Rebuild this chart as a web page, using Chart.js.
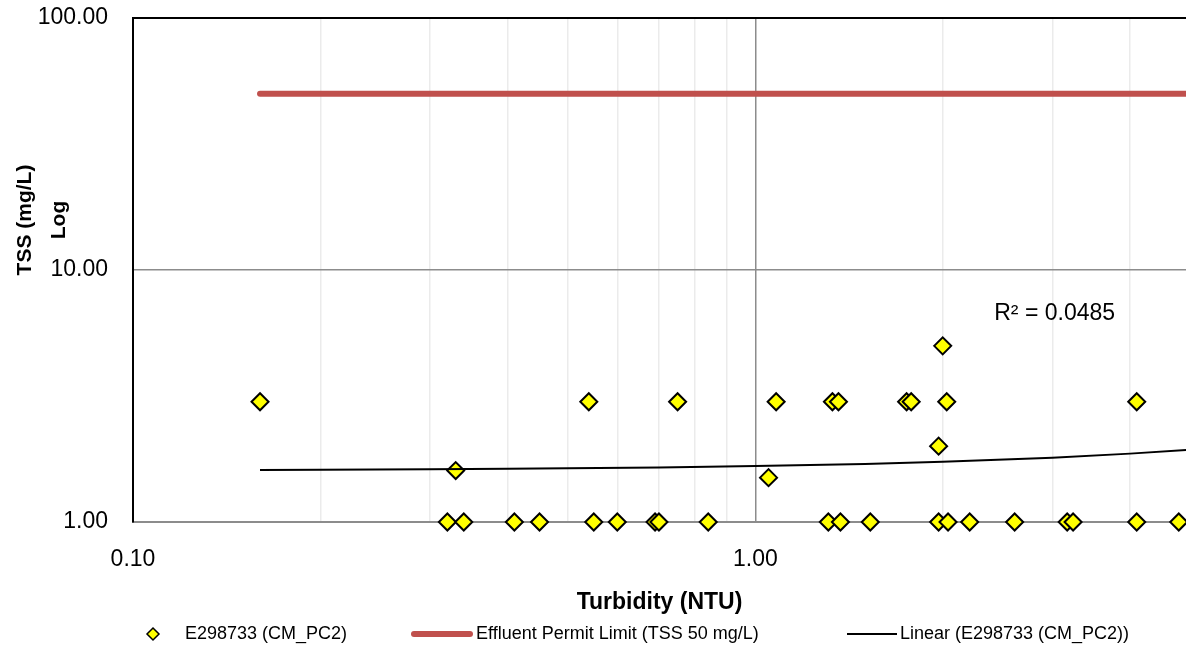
<!DOCTYPE html>
<html>
<head>
<meta charset="utf-8">
<script src="https://cdn.jsdelivr.net/npm/chart.js"></script>
<style>
  body { margin: 0; background: #fff; }
  #wrap { width: 1186px; height: 651px; }
</style>
</head>
<body>
<div id="wrap"><canvas id="chart" width="1186" height="651"></canvas></div>
<script>
// Scatter data: turbidity (NTU) vs TSS (mg/L)
const turbidity = [0.16, 0.32, 0.33, 0.34, 0.41, 0.45, 0.54, 0.55, 0.60, 0.69, 0.70, 0.75,
  0.84, 1.05, 1.08, 1.31, 1.33, 1.36, 1.37, 1.53, 1.75, 1.78, 1.97, 1.97, 2.00, 2.03,
  2.04, 2.21, 2.61, 3.17, 3.24, 4.10, 4.10, 4.79];
const tss = [3, 1, 1.6, 1, 1, 1, 3, 1, 1, 1, 1, 3,
  1, 1.5, 3, 1, 3, 3, 1, 1, 3, 3, 1, 2, 5, 3,
  1, 1, 1, 1, 1, 3, 1, 1];

// Effluent permit limit line (TSS 50 mg/L), starts at first sample
const permitX = [0.16, 10];
const permitY = [50, 50];

// Excel linear trendline (y = a + b*x), coefficients
const trendIntercept = 1.599;
const trendSlope = 0.0672;
const trendR2 = 'R\u00B2 = 0.0485';
const trendX = [0.16, 0.2, 0.3, 0.4, 0.5, 0.7, 1, 1.5, 2, 3, 4, 5, 6];

// axis ticks
const xTicks = [0.1, 0.2, 0.3, 0.4, 0.5, 0.6, 0.7, 0.8, 0.9, 1, 2, 3, 4];
const xLabeled = [0.1, 1];
const yTicks = [1, 10, 100];

const seriesName = 'E298733 (CM_PC2)';
const permitName = 'Effluent Permit Limit (TSS 50 mg/L)';
const trendName = 'Linear (E298733 (CM_PC2))';

const points = turbidity.map((x, i) => ({ x: x, y: tss[i] }));
const permitPts = permitX.map((x, i) => ({ x: x, y: permitY[i] }));
const trendPts = trendX.map(x => ({ x: x, y: trendIntercept + trendSlope * x }));

const FONT = "'Liberation Sans', Arial, sans-serif";

// y title, R² label and legend are drawn by hand to sit where Excel put them
const extras = {
  id: 'extras',
  afterDraw(chart) {
    const ctx = chart.ctx;
    const xs = chart.scales.x, ys = chart.scales.y;
    ctx.save();
    ctx.fillStyle = '#000';

    // R² label
    ctx.font = '23px ' + FONT;
    ctx.textAlign = 'left';
    ctx.textBaseline = 'middle';
    ctx.fillText(trendR2, xs.getPixelForValue(2.42), ys.getPixelForValue(6.7));

    // y axis title, two lines rotated
    ctx.font = 'bold 21px ' + FONT;
    ctx.textAlign = 'center';
    ctx.save();
    ctx.translate(25, 220);
    ctx.rotate(-Math.PI / 2);
    ctx.fillText('TSS (mg/L)', 0, 0);
    ctx.restore();
    ctx.save();
    ctx.translate(59, 220);
    ctx.rotate(-Math.PI / 2);
    ctx.fillText('Log', 0, 0);
    ctx.restore();

    // legend
    const ly = 634;
    ctx.font = '18px ' + FONT;
    ctx.textAlign = 'left';
    ctx.fillText(seriesName, 185, ly);
    ctx.fillText(permitName, 476, ly);
    ctx.fillText(trendName, 900, ly);

    ctx.beginPath();
    ctx.moveTo(153, ly - 6);
    ctx.lineTo(159, ly);
    ctx.lineTo(153, ly + 6);
    ctx.lineTo(147, ly);
    ctx.closePath();
    ctx.fillStyle = '#FFFF00';
    ctx.fill();
    ctx.lineWidth = 1.5;
    ctx.strokeStyle = '#000';
    ctx.stroke();

    ctx.lineCap = 'round';
    ctx.strokeStyle = '#C0504D';
    ctx.lineWidth = 6;
    ctx.beginPath();
    ctx.moveTo(414, ly);
    ctx.lineTo(470, ly);
    ctx.stroke();

    ctx.lineCap = 'butt';
    ctx.strokeStyle = '#000';
    ctx.lineWidth = 2;
    ctx.beginPath();
    ctx.moveTo(847, ly);
    ctx.lineTo(897, ly);
    ctx.stroke();
    ctx.restore();
  }
};

new Chart(document.getElementById('chart'), {
  type: 'scatter',
  data: {
    datasets: [
      {
        label: trendName,
        data: trendPts,
        showLine: true,
        borderColor: '#000',
        borderWidth: 2,
        pointRadius: 0,
        tension: 0,
        order: 1
      },
      {
        label: permitName,
        data: permitPts,
        showLine: true,
        borderColor: '#C0504D',
        borderWidth: 6,
        borderCapStyle: 'round',
        pointRadius: 0,
        order: 2
      },
      {
        label: seriesName,
        data: points,
        pointStyle: 'rectRot',
        pointRadius: 8.5,
        pointBackgroundColor: '#FFFF00',
        pointBorderColor: '#000',
        pointBorderWidth: 2,
        clip: false,
        order: 3
      }
    ]
  },
  options: {
    responsive: false,
    animation: false,
    devicePixelRatio: 1,
    layout: { autoPadding: false, padding: { top: 18, right: 0, bottom: 29, left: 0 } },
    plugins: {
      legend: { display: false },
      tooltip: { enabled: false }
    },
    scales: {
      x: {
        type: 'logarithmic',
        min: 0.1,
        max: 4.92,
        afterBuildTicks: s => { s.ticks = xTicks.map(v => ({ value: v })); },
        afterFit: s => { s.height = 100; s.paddingLeft = 0; s.paddingRight = 0; },
        ticks: {
          autoSkip: false,
          maxRotation: 0,
          padding: 24,
          color: '#000',
          font: { family: FONT, size: 23 },
          callback: v => xLabeled.includes(v) ? v.toFixed(2) : ''
        },
        grid: {
          drawTicks: false,
          color: c => c.tick.value === 1 ? '#8c8c8c' : (c.tick.value === 0.1 ? 'rgba(0,0,0,0)' : '#ebebeb'),
          lineWidth: 1.5
        },
        border: { color: '#8c8c8c', width: 2 },
        title: {
          display: true,
          text: 'Turbidity (NTU)',
          color: '#000',
          font: { family: FONT, size: 23, weight: 'bold' },
          padding: { top: 0, bottom: 6 }
        }
      },
      y: {
        type: 'logarithmic',
        min: 1,
        max: 100,
        afterBuildTicks: s => { s.ticks = yTicks.map(v => ({ value: v })); },
        afterFit: s => { s.width = 133; s.paddingTop = 0; s.paddingBottom = 0; },
        ticks: {
          padding: 25,
          color: '#000',
          font: { family: FONT, size: 23 },
          callback: v => Number(v).toFixed(2)
        },
        grid: {
          drawTicks: false,
          color: c => c.tick.value === 100 ? '#000' : (c.tick.value === 10 ? '#8c8c8c' : 'rgba(0,0,0,0)'),
          lineWidth: c => c.tick.value === 100 ? 2 : 1.5
        },
        border: { color: '#000', width: 2 }
      }
    }
  },
  plugins: [extras]
});
</script>
</body>
</html>
